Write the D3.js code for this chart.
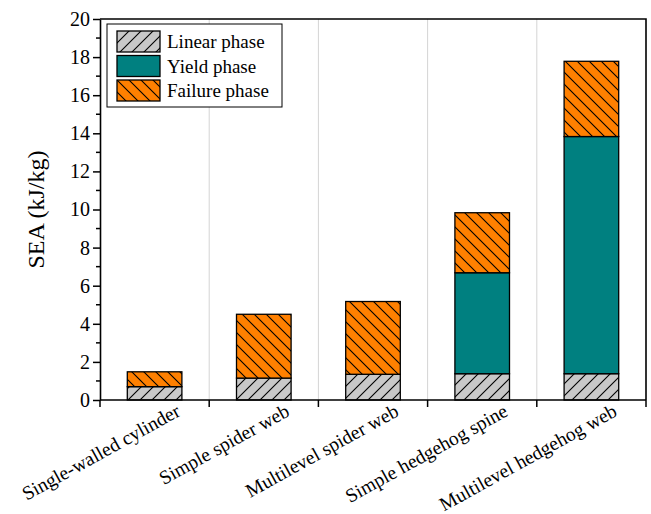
<!DOCTYPE html>
<html>
<head>
<meta charset="utf-8">
<script src="https://cdn.jsdelivr.net/npm/d3@7"></script>
<style>
    body { margin: 0; background: #fff; }
</style>
</head>
<body>
<svg width="651" height="514"></svg>
<script>
"use strict"

const categories = [
    "Single-walled cylinder",
    "Simple spider web",
    "Multilevel spider web",
    "Simple hedgehog spine",
    "Multilevel hedgehog web"
]
const phases = ["Linear phase", "Yield phase", "Failure phase"]
// SEA contribution of each phase (kJ/kg), stacked
const linearPhase = [0.7, 1.15, 1.35, 1.38, 1.38]
const yieldPhase = [0, 0, 0, 5.3, 12.45]
const failurePhase = [0.78, 3.35, 3.82, 3.15, 3.95]
const yTicks = [0, 2, 4, 6, 8, 10, 12, 14, 16, 18, 20]

const W = 651, H = 514
const margin = { top: 19, right: 5, bottom: 114, left: 100 }
const FONT = "Liberation Serif, Times New Roman, serif"

const svg = d3.select("svg").attr("font-family", FONT)

const rows = categories.map((c, i) => ({
    category: c,
    "Linear phase": linearPhase[i],
    "Yield phase": yieldPhase[i],
    "Failure phase": failurePhase[i]
}))
const series = d3.stack().keys(phases)(rows)

const x = d3.scaleBand()
    .domain(categories)
    .range([margin.left, W - margin.right])
    .paddingInner(0.5)
    .paddingOuter(0.25)

const y = d3.scaleLinear()
    .domain([0, 20])
    .range([H - margin.bottom, margin.top])

// hatch patterns
const defs = svg.append("defs")
function hatch(id, bg, dir) {
    const s = 12
    const p = defs.append("pattern")
        .attr("id", id)
        .attr("patternUnits", "userSpaceOnUse")
        .attr("width", s)
        .attr("height", s)
    p.append("rect").attr("width", s).attr("height", s).attr("fill", bg)
    const d = dir === "/"
        ? `M0,${s} L${s},0 M${-s / 4},${s / 4} L${s / 4},${-s / 4} M${s * 3 / 4},${s * 5 / 4} L${s * 5 / 4},${s * 3 / 4}`
        : `M0,0 L${s},${s} M${-s / 4},${s * 3 / 4} L${s / 4},${s * 5 / 4} M${s * 3 / 4},${-s / 4} L${s * 5 / 4},${s / 4}`
    p.append("path").attr("d", d).attr("stroke", "#000").attr("stroke-width", 1.1)
}
hatch("hatchLinear", "#c8c8c8", "/")
hatch("hatchFailure", "#ff8000", "\\")

const fills = {
    "Linear phase": "url(#hatchLinear)",
    "Yield phase": "#008080",
    "Failure phase": "url(#hatchFailure)"
}

// grid lines between categories
const step = x.step()
const boundaries = d3.range(1, categories.length).map((i) => margin.left + i * step)
svg.append("g")
    .selectAll("line")
    .data(boundaries)
    .join("line")
    .attr("x1", (d) => d)
    .attr("x2", (d) => d)
    .attr("y1", margin.top)
    .attr("y2", H - margin.bottom)
    .attr("stroke", "#d4d4d4")
    .attr("stroke-width", 1)

// bars
svg.append("g")
    .selectAll("g")
    .data(series)
    .join("g")
    .attr("fill", (d) => fills[d.key])
    .selectAll("rect")
    .data((d) => d.filter((v) => v[1] - v[0] > 0))
    .join("rect")
    .attr("x", (d) => x(d.data.category))
    .attr("width", x.bandwidth())
    .attr("y", (d) => y(d[1]))
    .attr("height", (d) => y(d[0]) - y(d[1]))
    .attr("stroke", "#000")
    .attr("stroke-width", 1.3)

// frame
const x0 = margin.left, x1 = W - margin.right
const y0 = H - margin.bottom, y1 = margin.top
svg.append("path")
    .attr("d", `M${x0},${y1} L${x1},${y1} L${x1},${y0}`)
    .attr("fill", "none")
    .attr("stroke", "#000")
    .attr("stroke-width", 1.6)

// y axis
const yAxis = svg.append("g")
    .attr("transform", `translate(${x0},0)`)
    .call(d3.axisLeft(y).tickValues(yTicks).tickSize(7).tickSizeOuter(0).tickPadding(3))
yAxis.attr("font-family", FONT).attr("font-size", 20)
yAxis.select(".domain").attr("stroke-width", 1.6)
yAxis.selectAll(".tick line").attr("stroke-width", 1.5)
yAxis.selectAll("text").attr("fill", "#000").attr("font-family", FONT)
// minor ticks
svg.append("g")
    .selectAll("line")
    .data(d3.range(1, 20, 2))
    .join("line")
    .attr("x1", x0 - 4)
    .attr("x2", x0)
    .attr("y1", (d) => y(d))
    .attr("y2", (d) => y(d))
    .attr("stroke", "#000")
    .attr("stroke-width", 1.5)

// x axis
svg.append("line")
    .attr("x1", x0).attr("x2", x1)
    .attr("y1", y0).attr("y2", y0)
    .attr("stroke", "#000").attr("stroke-width", 1.6)
svg.append("g")
    .selectAll("line")
    .data([x0, ...boundaries, x1])
    .join("line")
    .attr("x1", (d) => d)
    .attr("x2", (d) => d)
    .attr("y1", y0)
    .attr("y2", y0 + 7)
    .attr("stroke", "#000")
    .attr("stroke-width", 1.5)

svg.append("g")
    .selectAll("text")
    .data(categories)
    .join("text")
    .attr("transform", (d) => `translate(${x(d) + x.bandwidth() / 2 + 27},${y0 + 15}) rotate(-29)`)
    .attr("text-anchor", "end")
    .attr("font-family", FONT)
    .attr("font-size", 19.5)
    .text((d) => d)

// y label
svg.append("text")
    .attr("transform", `translate(44,${(y0 + y1) / 2}) rotate(-90)`)
    .attr("text-anchor", "middle")
    .attr("font-family", FONT)
    .attr("font-size", 24)
    .text("SEA (kJ/kg)")

// legend
const lg = svg.append("g").attr("transform", "translate(107,24)")
lg.append("rect")
    .attr("width", 175)
    .attr("height", 83)
    .attr("fill", "#fff")
    .attr("stroke", "#000")
    .attr("stroke-width", 1)
phases.forEach((k, i) => {
    const row = lg.append("g").attr("transform", `translate(10,${7 + i * 24.5})`)
    row.append("rect")
        .attr("width", 43)
        .attr("height", 21)
        .attr("fill", fills[k])
        .attr("stroke", "#000")
        .attr("stroke-width", 1.3)
    row.append("text")
        .attr("x", 50)
        .attr("y", 17)
        .attr("font-family", FONT)
        .attr("font-size", 19)
        .text(k)
})
</script>
</body>
</html>
